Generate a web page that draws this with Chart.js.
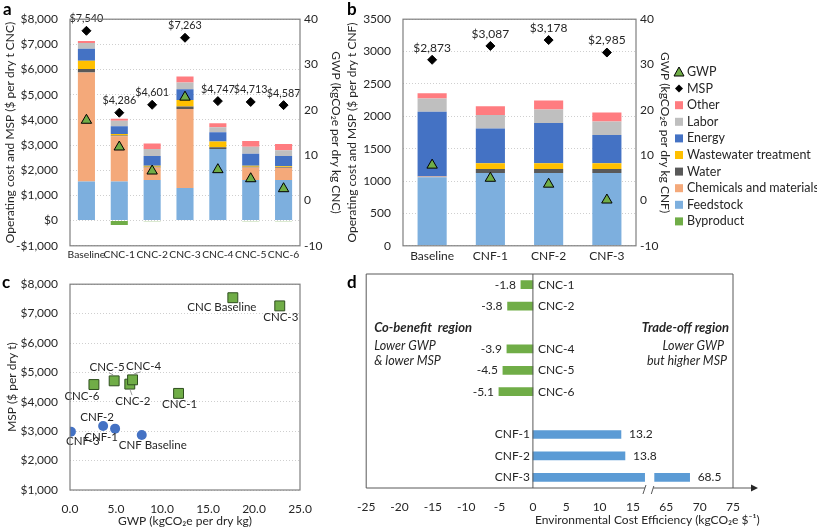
<!DOCTYPE html>
<html lang="en">
<head>
<meta charset="UTF-8">
<title>CNC and CNF: operating cost, MSP and GWP</title>
<script src="https://cdn.jsdelivr.net/npm/chart.js"></script>
<style>
  body { margin: 0; background: #fff; font-family: Lato, 'Open Sans', sans-serif; }
  #wrap { position: relative; width: 817px; height: 531px; overflow: hidden; }
  .panel { position: absolute; }
  #pa { left: 0; top: 0; width: 345px; height: 265px; }
  #pb { left: 345px; top: 0; width: 472px; height: 265px; }
  #pc { left: 0; top: 265px; width: 345px; height: 266px; }
  #pd { left: 345px; top: 265px; width: 472px; height: 266px; }
  .tag { position: absolute; font: bold 17px Lato, sans-serif; line-height: 17px; color: #000; }
</style>
</head>
<body>
<div id="wrap">
  <div class="panel" id="pa"><canvas id="ca"></canvas></div>
  <div class="panel" id="pb"><canvas id="cb"></canvas></div>
  <div class="panel" id="pc"><canvas id="cc"></canvas></div>
  <div class="panel" id="pd"><canvas id="cd"></canvas></div>
  <div class="tag" style="left:3px;top:0">a</div>
  <div class="tag" style="left:347px;top:0">b</div>
  <div class="tag" style="left:2px;top:273px">c</div>
  <div class="tag" style="left:347px;top:273px">d</div>
</div>

<script>
  // ---- data: CNC pathways (panel a) ----
  const cncCats = ['Baseline', 'CNC-1', 'CNC-2', 'CNC-3', 'CNC-4', 'CNC-5', 'CNC-6'];
  const cncByproduct = [0, -170, -20, 0, 0, -20, -20];
  const cncFeedstock = [1550, 1550, 1610, 1300, 2840, 1610, 1610];
  const cncChemicals = [4330, 1800, 500, 3130, 0, 500, 490];
  const cncWater = [140, 30, 25, 100, 70, 25, 25];
  const cncWastewater = [330, 60, 45, 260, 230, 45, 35];
  const cncEnergy = [480, 310, 390, 430, 365, 480, 405];
  const cncLabor = [220, 220, 270, 270, 205, 270, 230];
  const cncOther = [80, 75, 220, 230, 155, 235, 250];
  const cncGwp = [17.7, 11.8, 6.5, 22.8, 6.8, 4.8, 2.6];
  const cncMsp = [7540, 4286, 4601, 7263, 4747, 4713, 4587];

  // ---- data: CNF pathways (panel b) ----
  const cnfCats = ['Baseline', 'CNF-1', 'CNF-2', 'CNF-3'];
  const cnfByproduct = [0, 0, 0, 0];
  const cnfFeedstock = [1060, 1125, 1125, 1125];
  const cnfChemicals = [10, 0, 0, 0];
  const cnfWater = [0, 60, 60, 60];
  const cnfWastewater = [0, 90, 90, 90];
  const cnfEnergy = [1000, 535, 620, 435];
  const cnfLabor = [205, 210, 210, 210];
  const cnfOther = [80, 135, 140, 140];
  const cnfGwp = [7.8, 4.9, 3.6, 0.1];
  const cnfMsp = [2873, 3087, 3178, 2985];

  // ---- data: environmental cost efficiency (panel d) ----
  const eceCats = ['CNC-1', 'CNC-2', '', 'CNC-4', 'CNC-5', 'CNC-6', '', 'CNF-1', 'CNF-2', 'CNF-3'];
  const eceValues = [-1.8, -3.8, null, -3.9, -4.5, -5.1, null, 13.2, 13.8, 68.5];
  const eceTickLabels = ['-25', '-20', '-15', '-10', '-5', '0', '5', '10', '15', '65', '70', '75'];

  // stacking order, bottom to top
  const costNames = ['Byproduct', 'Feedstock', 'Chemicals and materials', 'Water', 'Wastewater treatment', 'Energy', 'Labor', 'Other'];
  const costColors = ['#70AD47', '#7DAFDE', '#F4A97A', '#595959', '#FFC000', '#4472C4', '#BFBFBF', '#FF7C80'];
  const legendOrder = ['GWP', 'MSP', 'Other', 'Labor', 'Energy', 'Wastewater treatment', 'Water', 'Chemicals and materials', 'Feedstock', 'Byproduct'];

  const FONT = "Lato, 'Open Sans', sans-serif";
  Chart.defaults.font.family = FONT;
  Chart.defaults.font.size = 12;
  Chart.defaults.color = '#262626';
  Chart.defaults.animation = false;
  Chart.defaults.plugins.legend.display = false;
  Chart.defaults.plugins.tooltip.enabled = false;

  const gridColor = '#CFCFCF';
  const usd = v => (v < 0 ? '-' : '') + '$' + Math.abs(v).toLocaleString('en-US');

  // grey box around the plot area
  const frame = {
    id: 'frame',
    afterDraw(chart) {
      const { ctx, chartArea: a } = chart;
      ctx.save();
      ctx.strokeStyle = '#7F7F7F';
      ctx.lineWidth = 1.2;
      ctx.strokeRect(a.left, a.top, a.right - a.left, a.bottom - a.top);
      ctx.restore();
    }
  };

  // "$7,540" labels above the MSP diamonds
  const mspLabels = {
    id: 'mspLabels',
    afterDatasetsDraw(chart, args, opts) {
      const ctx = chart.ctx;
      const ds = chart.data.datasets[1];
      ctx.save();
      ctx.font = (opts.size || 12) + 'px ' + FONT;
      ctx.fillStyle = '#262626';
      ctx.textAlign = 'center';
      ctx.textBaseline = 'middle';
      chart.getDatasetMeta(1).data.forEach((p, i) => ctx.fillText(usd(ds.data[i]), p.x, p.y - 12));
      ctx.restore();
    }
  };

  // legend on the right of panel b
  const sideLegend = {
    id: 'sideLegend',
    afterDraw(chart) {
      const ctx = chart.ctx;
      const mx = chart.chartArea.right + 43;
      ctx.save();
      ctx.font = '12.5px ' + FONT;
      ctx.textBaseline = 'middle';
      legendOrder.forEach((name, i) => {
        const ds = chart.data.datasets.find(d => d.label === name);
        const y = 72 + i * 16.6;
        ctx.fillStyle = ds.backgroundColor;
        ctx.strokeStyle = '#000';
        ctx.lineWidth = 1;
        if (ds.pointStyle === 'triangle') {
          ctx.beginPath();
          ctx.moveTo(mx, y - 5); ctx.lineTo(mx + 5, y + 4); ctx.lineTo(mx - 5, y + 4); ctx.closePath();
          ctx.fill(); ctx.stroke();
        } else if (ds.pointStyle === 'rectRot') {
          ctx.beginPath();
          ctx.moveTo(mx, y - 4); ctx.lineTo(mx + 4, y); ctx.lineTo(mx, y + 4); ctx.lineTo(mx - 4, y); ctx.closePath();
          ctx.fill();
        } else {
          ctx.fillRect(mx - 4, y - 4, 8, 8);
        }
        ctx.fillStyle = '#262626';
        ctx.fillText(name, mx + 8, y);
      });
      ctx.restore();
    }
  };

  function stackChart(id, cats, parts, gwp, msp, o) {
    const datasets = [
      { type: 'line', label: 'GWP', data: gwp, yAxisID: 'yGwp', showLine: false, pointStyle: 'triangle',
        pointRadius: 6, backgroundColor: '#70AD47', pointBackgroundColor: '#70AD47',
        borderColor: '#000', pointBorderColor: '#000', pointBorderWidth: 1 },
      { type: 'line', label: 'MSP', data: msp, yAxisID: 'yMsp', showLine: false, pointStyle: 'rectRot',
        pointRadius: 4.5, backgroundColor: '#000', pointBackgroundColor: '#000',
        borderColor: '#000', pointBorderColor: '#000', pointBorderWidth: 1 }
    ];
    parts.forEach((d, i) => datasets.push({
      type: 'bar', label: costNames[i], data: d, yAxisID: 'y',
      backgroundColor: costColors[i], borderWidth: 0,
      barPercentage: o.bar, categoryPercentage: 1
    }));

    return new Chart(document.getElementById(id), {
      type: 'bar',
      data: { labels: cats, datasets },
      options: {
        responsive: true,
        maintainAspectRatio: false,
        layout: { padding: { top: 13, right: o.padRight, left: 0, bottom: 0 } },
        plugins: { mspLabels: { size: o.labelSize } },
        scales: {
          x: {
            stacked: true,
            grid: { display: false, drawTicks: false },
            border: { display: false },
            ticks: { autoSkip: false, maxRotation: 0, padding: 3, font: { size: o.catSize } },
            afterFit: s => { s.height = 18; }
          },
          y: {
            stacked: true, position: 'left', min: o.min, max: o.max,
            ticks: { stepSize: o.step, callback: o.fmt, padding: 12 },
            grid: { color: gridColor, drawTicks: false },
            border: { display: false, dash: [1, 2] },
            title: { display: true, text: o.leftTitle, padding: { top: o.leftPad } },
            afterFit: s => { s.width = o.leftW; }
          },
          yGwp: {
            position: 'right', min: -10, max: 40,
            ticks: { stepSize: 10, padding: 4 },
            grid: { drawOnChartArea: false, drawTicks: false },
            border: { display: false },
            title: { display: true, text: o.rightTitle, padding: { top: o.rightPad } },
            afterFit: s => { s.width = o.rightW; }
          },
          yMsp: { display: false, min: o.min, max: o.max }
        }
      },
      plugins: o.legend ? [frame, mspLabels, sideLegend] : [frame, mspLabels]
    });
  }

  stackChart('ca', cncCats,
    [cncByproduct, cncFeedstock, cncChemicals, cncWater, cncWastewater, cncEnergy, cncLabor, cncOther],
    cncGwp, cncMsp,
    { min: -1000, max: 8000, step: 1000, fmt: usd, bar: 0.52, catSize: 10.3, labelSize: 10.8,
      leftTitle: 'Operating cost and MSP ($ per dry t CNC)', rightTitle: 'GWP (kgCO\u2082e per dry kg CNC)',
      leftW: 70, rightW: 45, padRight: 0, leftPad: 3, rightPad: 2, legend: false });

  stackChart('cb', cnfCats,
    [cnfByproduct, cnfFeedstock, cnfChemicals, cnfWater, cnfWastewater, cnfEnergy, cnfLabor, cnfOther],
    cnfGwp, cnfMsp,
    { min: 0, max: 3500, step: 500, fmt: v => v, bar: 0.5, catSize: 12, labelSize: 12,
      leftTitle: 'Operating cost and MSP ($ per dry t CNF)', rightTitle: 'GWP (kgCO\u2082e per dry kg CNF)',
      leftW: 58, rightW: 36, padRight: 145, leftPad: 0, rightPad: 0, legend: true });

  // ---- panel c: MSP vs GWP ----
  const cncNames = cncCats.map(c => c === 'Baseline' ? 'CNC Baseline' : c);
  const cnfNames = cnfCats.map(c => c === 'Baseline' ? 'CNF Baseline' : c);
  // label offsets from the marker (px) and whether a leader line is drawn
  const cncLabelOff = [[-11, 10], [1, 11], [3, 17], [1, 11], [11, -14], [-7, -14], [-12, 12]];
  const cncLeader = [false, false, true, false, true, true, false];
  const cnfLabelOff = [[11, 10], [-14, 9], [-6, -9], [12, 10]];

  const pointLabels = {
    id: 'pointLabels',
    afterDatasetsDraw(chart) {
      const ctx = chart.ctx;
      ctx.save();
      ctx.font = '11.5px ' + FONT;
      ctx.fillStyle = '#262626';
      ctx.strokeStyle = '#7F7F7F';
      ctx.lineWidth = 0.8;
      ctx.textAlign = 'center';
      ctx.textBaseline = 'middle';
      const put = (meta, names, offs, leaders) => meta.data.forEach((p, i) => {
        const [dx, dy] = offs[i];
        const lx = p.x + dx, ly = p.y + dy;
        if (leaders && leaders[i]) {
          const s = Math.sign(dy);
          ctx.beginPath();
          ctx.moveTo(p.x + dx * 0.15, p.y + s * 6);
          ctx.lineTo(lx - dx * 0.25, ly - s * 6);
          ctx.stroke();
        }
        ctx.fillText(names[i], lx, ly);
      });
      put(chart.getDatasetMeta(0), cncNames, cncLabelOff, cncLeader);
      put(chart.getDatasetMeta(1), cnfNames, cnfLabelOff, null);
      ctx.restore();
    }
  };

  new Chart(document.getElementById('cc'), {
    type: 'scatter',
    data: {
      datasets: [
        { label: 'CNC', data: cncGwp.map((g, i) => ({ x: g, y: cncMsp[i] })),
          pointStyle: 'rect', pointRadius: 7, backgroundColor: '#70AD47', borderColor: '#2F4F1F', borderWidth: 1 },
        { label: 'CNF', data: cnfGwp.map((g, i) => ({ x: g, y: cnfMsp[i] })),
          pointStyle: 'circle', pointRadius: 5, backgroundColor: '#4472C4', borderColor: '#4472C4', borderWidth: 0 }
      ]
    },
    options: {
      responsive: true,
      maintainAspectRatio: false,
      layout: { padding: { top: 10, right: 45, left: 0, bottom: 0 } },
      scales: {
        x: {
          min: 0, max: 25,
          ticks: { stepSize: 5, callback: v => v.toFixed(1), padding: 12 },
          grid: { display: false, drawTicks: false },
          border: { display: false },
          title: { display: true, text: 'GWP (kgCO\u2082e per dry kg)', padding: { top: 0, bottom: 3 } },
          afterFit: s => { s.height = 41; }
        },
        y: {
          min: 1000, max: 8000,
          ticks: { stepSize: 1000, callback: usd, padding: 12 },
          grid: { color: gridColor, drawTicks: false },
          border: { display: false, dash: [1, 2] },
          title: { display: true, text: 'MSP ($ per dry t)', padding: { top: 5 } },
          afterFit: s => { s.width = 70; }
        }
      }
    },
    plugins: [frame, pointLabels]
  });

  // ---- panel d: broken x axis (15 | 65) ----
  const brk = v => (v > 40 ? v - 45 : v);

  const eceDeco = {
    id: 'eceDeco',
    afterDatasetsDraw(chart) {
      const { ctx, chartArea: a, scales: { x } } = chart;
      const x0 = x.getPixelForValue(0);
      const g1 = x.getPixelForValue(16.8), g2 = x.getPixelForValue(18.2);
      ctx.save();
      // cut through the long bar
      ctx.fillStyle = '#fff';
      ctx.fillRect(g1, a.top + 1, g2 - g1, a.bottom - a.top + 3);

      ctx.strokeStyle = '#595959';
      ctx.lineWidth = 1;
      ctx.beginPath();
      ctx.moveTo(a.left, a.bottom); ctx.lineTo(a.left, a.top);
      ctx.lineTo(a.right, a.top); ctx.lineTo(a.right, a.bottom);
      ctx.moveTo(x0, a.top); ctx.lineTo(x0, a.bottom);
      ctx.moveTo(a.left, a.bottom); ctx.lineTo(g1, a.bottom);
      ctx.moveTo(g2 - 1, a.bottom); ctx.lineTo(a.right + 20, a.bottom);
      ctx.moveTo(g1 - 2, a.bottom + 6); ctx.lineTo(g1 + 1, a.bottom - 3);
      ctx.moveTo(g2 - 3, a.bottom + 6); ctx.lineTo(g2 - 0.5, a.bottom - 2);
      ctx.stroke();
      ctx.fillStyle = '#262626';
      ctx.beginPath();
      ctx.moveTo(a.right + 25, a.bottom); ctx.lineTo(a.right + 18, a.bottom - 3.5); ctx.lineTo(a.right + 18, a.bottom + 3.5);
      ctx.closePath(); ctx.fill();

      // bar and category labels
      ctx.font = '12px ' + FONT;
      ctx.textBaseline = 'middle';
      chart.getDatasetMeta(0).data.forEach((el, i) => {
        const v = eceValues[i];
        if (v == null) return;
        if (v < 0) {
          ctx.textAlign = 'right'; ctx.fillText(v.toFixed(1), el.x - 5, el.y);
          ctx.textAlign = 'left'; ctx.fillText(eceCats[i], x0 + 5, el.y);
        } else {
          ctx.textAlign = 'right'; ctx.fillText(eceCats[i], x0 - 3, el.y);
          ctx.textAlign = 'left'; ctx.fillText(v.toFixed(1), el.x + 8, el.y);
        }
      });

      // region notes
      ctx.textAlign = 'left';
      ctx.font = 'italic bold 13px ' + FONT;
      ctx.fillText('Co-benefit  region', a.left + 8, a.top + 54);
      ctx.font = 'italic 12.5px ' + FONT;
      ctx.fillText('Lower GWP', a.left + 8, a.top + 72);
      ctx.fillText('& lower MSP', a.left + 8, a.top + 87);
      ctx.textAlign = 'right';
      ctx.font = 'italic bold 13px ' + FONT;
      ctx.fillText('Trade-off region', a.right - 4, a.top + 54);
      ctx.font = 'italic 12.5px ' + FONT;
      ctx.fillText('Lower GWP', a.right - 9, a.top + 72);
      ctx.fillText('but higher MSP', a.right - 6, a.top + 87);

      // axis title
      ctx.font = '12px ' + FONT;
      ctx.textAlign = 'left';
      ctx.fillText('Environmental Cost Efficiency (kgCO\u2082e $\u207B\u00B9)', x0 + 2, a.bottom + 32);
      ctx.restore();
    }
  };

  new Chart(document.getElementById('cd'), {
    type: 'bar',
    data: {
      labels: eceCats,
      datasets: [{
        label: 'ECE',
        data: eceValues.map(v => (v == null ? null : brk(v))),
        backgroundColor: eceCats.map(c => (c.startsWith('CNC') ? '#70AD47' : '#5B9BD5')),
        borderWidth: 0,
        barThickness: 8
      }]
    },
    options: {
      indexAxis: 'y',
      responsive: true,
      maintainAspectRatio: false,
      layout: { padding: { top: 9, right: 84, left: 20, bottom: 0 } },
      scales: {
        x: {
          min: -25, max: 30,
          ticks: { stepSize: 5, callback: (v, i) => eceTickLabels[i], padding: 12 },
          grid: { display: false, drawTicks: false },
          border: { display: false },
          afterFit: s => { s.height = 43; }
        },
        y: { display: false }
      }
    },
    plugins: [eceDeco]
  });
</script>
</body>
</html>
